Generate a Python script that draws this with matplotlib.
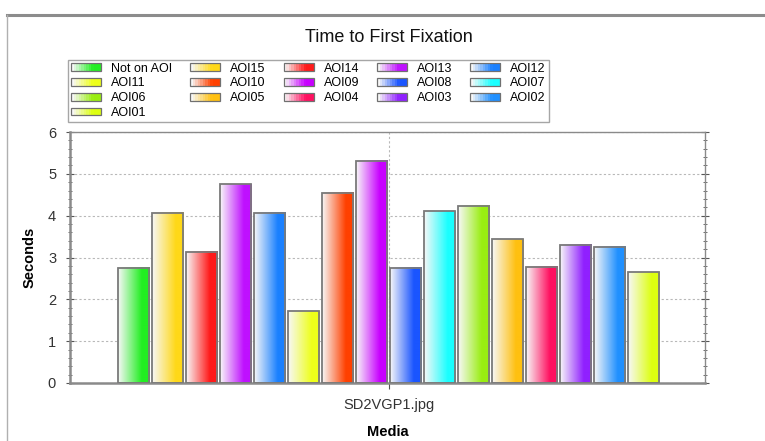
import numpy as np
import matplotlib
matplotlib.use('Agg')
import matplotlib.pyplot as plt
from matplotlib.colors import to_rgb
from matplotlib.patches import Rectangle
from matplotlib.legend_handler import HandlerBase
from matplotlib.lines import Line2D

plt.rcParams['font.family'] = ['Liberation Sans', 'DejaVu Sans']

# data
aois = ['Not on AOI', 'AOI15', 'AOI14', 'AOI13', 'AOI12', 'AOI11', 'AOI10', 'AOI09',
        'AOI08', 'AOI07', 'AOI06', 'AOI05', 'AOI04', 'AOI03', 'AOI02', 'AOI01']
seconds = [2.75, 4.07, 3.14, 4.75, 4.07, 1.72, 4.55, 5.31,
           2.75, 4.10, 4.24, 3.44, 2.78, 3.31, 3.26, 2.65]
colors = ['#22ee22', '#ffd818', '#ff1a1a', '#bf10ff', '#1a80ff', '#eeff1a', '#ff4000', '#c800ff',
          '#1a55ff', '#1affff', '#99ee11', '#ffc010', '#ff1060', '#9020ff', '#2090ff', '#ddff10']
media = 'SD2VGP1.jpg'


def gradient(c, n=64):
    rgb = np.array(to_rgb(c))
    t = np.clip(np.linspace(0, 1, n) / 0.75, 0, 1)[:, None]
    col = (1 - t) * np.array([1.0, 1.0, 1.0]) * 0.97 + t * rgb
    return col[None, :, :]


class GradHandler(HandlerBase):
    def create_artists(self, legend, orig_handle, xdescent, ydescent,
                       width, height, fontsize, trans):
        c = orig_handle.get_facecolor()
        arts = []
        n = 12
        g = gradient(c, n)[0]
        for k in range(n):
            r = Rectangle((-xdescent + k * width / n, -ydescent), width / n + 0.3, height,
                          facecolor=g[k], edgecolor='none', transform=trans)
            arts.append(r)
        arts.append(Rectangle((-xdescent, -ydescent), width, height, facecolor='none',
                              edgecolor='#707070', lw=0.9, transform=trans))
        return arts


fig = plt.figure(figsize=(7.65, 4.41), dpi=100)
ax = fig.add_axes([70 / 765, 1 - 383 / 441, 635 / 765, 251 / 441])

x = np.arange(len(aois))
w = 0.92
handles = []
for i in range(len(aois)):
    ax.imshow(gradient(colors[i]), extent=(x[i] - w / 2, x[i] + w / 2, 0, seconds[i]),
              aspect='auto', zorder=2, interpolation='bilinear')
    ax.bar(x[i], seconds[i], width=w, facecolor='none', edgecolor='#7a7a7a',
           lw=1.3, zorder=3)
    handles.append(Rectangle((0, 0), 1, 1, facecolor=colors[i], label=aois[i]))

ax.set_xlim(-1.88, 16.82)
ax.set_ylim(0, 6)
ax.set_xticks([7.5])
ax.set_xticklabels([media])
ax.set_yticks(range(7))
ax.set_yticks(np.arange(0, 6.01, 0.2), minor=True)
ax.grid(True, which='major', linestyle=(0, (2, 2)), color='#b8b8b8', lw=0.8, zorder=0)
ax.set_axisbelow(True)

for s in ax.spines.values():
    s.set_color('#8a8a8a')
    s.set_linewidth(1.0)
ax.spines['left'].set_linewidth(1.8)
ax.spines['bottom'].set_linewidth(1.8)

ax.tick_params(axis='y', which='both', direction='inout', right=True, colors='#555555',
               labelcolor='#333333', labelsize=10.5, pad=7)
ax.tick_params(axis='y', which='major', length=6)
ax.tick_params(axis='y', which='minor', length=3)
ax.tick_params(axis='x', length=4, colors='#555555', labelcolor='#333333', labelsize=10.5, pad=7)

ax.set_ylabel('Seconds', fontsize=10.5, fontweight='bold', labelpad=8)
ax.set_xlabel('Media', fontsize=10.5, fontweight='bold', labelpad=9)

fig.text(389 / 765, 1 - 37 / 441, 'Time to First Fixation', ha='center', va='center',
         fontsize=13, color='#111111')

# legend in row order, 5 columns
ncol = 5
order = []
for c in range(ncol):
    order += list(range(c, len(aois), ncol))
leg = fig.legend([handles[i] for i in order], [aois[i] for i in order], ncol=ncol,
                 loc='upper left', bbox_to_anchor=(68 / 765, 1 - 60 / 441, 481 / 765, 0.001),
                 mode='expand', fontsize=9, frameon=True, fancybox=False,
                 edgecolor='#909090', handlelength=2.4, handleheight=0.6,
                 handletextpad=0.8, labelspacing=0.22, borderpad=0.25, borderaxespad=0,
                 handler_map={Rectangle: GradHandler()})
leg.get_frame().set_linewidth(1.0)

# outer panel border
fig.add_artist(Line2D([7 / 765, 1], [1 - 15 / 441] * 2, color='#8c8c8c', lw=2.2))
fig.add_artist(Line2D([7 / 765] * 2, [0, 1 - 15 / 441], color='#b0b0b0', lw=1.0))

fig.savefig('out.png', dpi=100)
